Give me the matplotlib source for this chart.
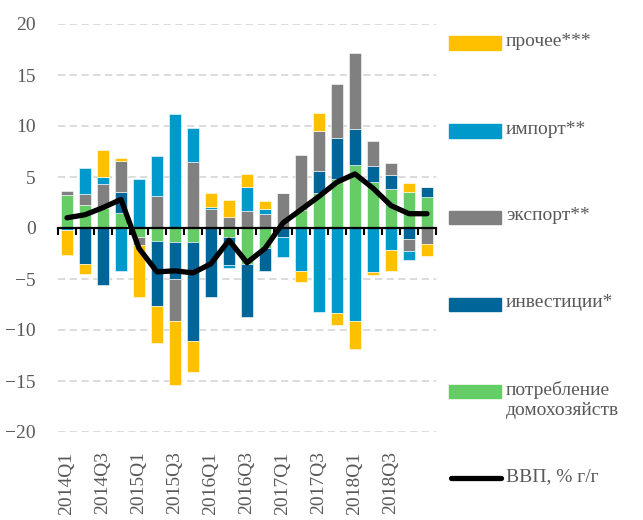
import matplotlib
matplotlib.use("Agg")
import matplotlib.pyplot as plt
import numpy as np
from matplotlib.patches import Rectangle
from matplotlib.lines import Line2D

plt.rcParams['font.family'] = ['Liberation Serif', 'DejaVu Serif']

# кварталы
quarters = ['2014Q1', '2014Q2', '2014Q3', '2014Q4',
            '2015Q1', '2015Q2', '2015Q3', '2015Q4',
            '2016Q1', '2016Q2', '2016Q3', '2016Q4',
            '2017Q1', '2017Q2', '2017Q3', '2017Q4',
            '2018Q1', '2018Q2', '2018Q3', '2018Q4', '2019Q1']

# вклады в рост ВВП, п.п.
potreblenie = [3.2, 2.3, 2.0, 1.5, -0.9, -1.25, -1.4, -1.35, 0.0, -0.85, -3.5,
               -2.0, 0.0, 1.8, 3.4, 4.8, 6.2, 4.5, 3.8, 3.55, 3.05]
investicii = [0.0, -3.5, -5.6, 2.0, 0.0, -6.4, -3.6, -9.7, -6.8, -2.75, -5.2,
              -2.2, -0.9, 0.0, 2.2, 4.0, 3.5, 1.6, 1.4, -1.1, 1.0]
eksport = [0.45, 1.0, 2.3, 3.1, -0.8, 3.1, -4.15, 6.5, 1.9, 1.1, 1.7,
           1.4, 3.4, 5.4, 3.95, 5.35, 7.5, 2.4, 1.2, -1.2, -1.55]
import_ = [-0.2, 2.6, 0.7, -4.2, 4.8, 3.95, 11.2, 3.3, 0.2, -0.35, 2.3,
           0.5, -1.95, -4.2, -8.2, -8.3, -9.15, -4.3, -2.2, -0.8, 0.0]
prochee = [-2.45, -1.05, 2.65, 0.3, -5.1, -3.65, -6.2, -3.1, 1.3, 1.6, 1.3,
           0.7, 0.0, -1.1, 1.75, -1.2, -2.75, -0.3, -2.0, 0.85, -1.15]
vvp = [1.0, 1.3, 2.0, 2.8, -2.0, -4.3, -4.2, -4.4, -3.5, -1.2, -3.4,
       -2.0, 0.5, 1.8, 3.1, 4.5, 5.3, 3.9, 2.2, 1.4, 1.4]

series = [
    (potreblenie, '#66CC66', 'потребление\nдомохозяйств'),
    (investicii, '#006699', 'инвестиции*'),
    (eksport, '#808080', 'экспорт**'),
    (import_, '#0099CC', 'импорт**'),
    (prochee, '#FFC000', 'прочее***'),
]

txt_color = '#595959'
fs = 14
rect = [58/643, 1 - 432/520, 378/643, 408/520]

fig = plt.figure(figsize=(6.43, 5.2), dpi=100)
ax = fig.add_axes(rect)

x = np.arange(len(quarters))
pos_bottom = np.zeros(len(x))
neg_bottom = np.zeros(len(x))
for vals, col, lab in series:
    v = np.array(vals)
    bottom = np.where(v >= 0, pos_bottom, neg_bottom)
    ax.bar(x, v, width=0.67, bottom=bottom, color=col, edgecolor='white',
           linewidth=0.4, zorder=2)
    pos_bottom += np.where(v >= 0, v, 0)
    neg_bottom += np.where(v < 0, v, 0)

ax.plot(x, vvp, color='black', lw=3.8, solid_capstyle='round',
        solid_joinstyle='round', zorder=4)

xlim = (-0.5, len(x) - 0.5)
ylim = (-20, 20)
ax.set_xlim(xlim)
ax.set_ylim(ylim)
ax.set_yticks(np.arange(-20, 21, 5))
ax.yaxis.grid(True, color='#D9D9D9', linestyle=(0, (4, 2.5)), lw=1.3, zorder=0)

ax.set_xticks(x[:-1:2])
ax.set_xticklabels(quarters[:-1:2], rotation=90)
ax.tick_params(axis='x', length=0, pad=14, labelsize=fs, labelcolor=txt_color)
ax.tick_params(axis='y', length=0, pad=16, labelsize=fs, labelcolor=txt_color)
for s in ax.spines.values():
    s.set_visible(False)

# нулевая ось с засечками (отдельные прозрачные оси поверх)
ax0 = fig.add_axes(rect)
ax0.set_xlim(xlim)
ax0.set_ylim(ylim)
ax0.patch.set_visible(False)
for name in ['top', 'left', 'right']:
    ax0.spines[name].set_visible(False)
ax0.spines['bottom'].set_position(('data', 0))
ax0.spines['bottom'].set_linewidth(1.6)
ax0.set_xticks(np.arange(-0.5, len(x), 1.0))
ax0.tick_params(axis='x', direction='out', length=5, width=1.5, color='black',
                labelbottom=False)
ax0.set_yticks([])

# легенда справа
leg_items = [
    ('прочее***', '#FFC000', 43),
    ('импорт**', '#0099CC', 131),
    ('экспорт**', '#808080', 217),
    ('инвестиции*', '#006699', 304),
    ('потребление\nдомохозяйств', '#66CC66', 391),
]
for lab, col, yc in leg_items:
    fig.add_artist(Rectangle((449/643, 1 - (yc + 6.5)/520), 52/643, 13/520,
                             transform=fig.transFigure, color=col))
    fig.text(506/643, 1 - (yc - 10)/520, lab, color=txt_color, fontsize=fs,
             va='top', ha='left', linespacing=1.2)
fig.add_artist(Line2D([451/643, 501/643], [1 - 478/520, 1 - 478/520],
                      transform=fig.transFigure, color='black', lw=3.8,
                      solid_capstyle='round'))
fig.text(506/643, 1 - 468/520, 'ВВП, % г/г', color=txt_color, fontsize=fs,
         va='top', ha='left')

fig.savefig('out.png', dpi=100)
